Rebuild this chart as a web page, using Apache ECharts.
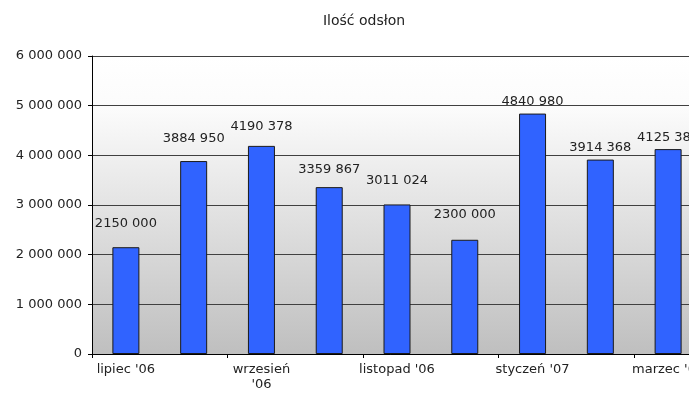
<!DOCTYPE html>
<html>
<head>
<meta charset="utf-8">
<script src="https://cdn.jsdelivr.net/npm/echarts@6/dist/echarts.min.js"></script>
<style>
  html, body { margin: 0; padding: 0; background: #ffffff; }
  #chart { width: 689px; height: 393px; }
</style>
</head>
<body>
<div id="chart"></div>
<script>
// miesiące
var months = ["lipiec '06", "sierpień '06", "wrzesień '06", "październik '06", "listopad '06",
  "grudzień '06", "styczeń '07", "luty '07", "marzec '07"];
// ilość odsłon
var views = [2150000, 3884950, 4190378, 3359867, 3011024, 2300000, 4840980, 3914368, 4125380];
var yTicks = [0, 1000000, 2000000, 3000000, 4000000, 5000000, 6000000];
// odstęp etykiety od słupka (px)
var labelGap = [17, 16, 13, 11, 17, 19, 5, 5, 5];

var font = "DejaVu Sans";

// 6 000 000 na osi
function fmtTick(v) {
  return String(v).replace(/\B(?=(\d{3})+(?!\d))/g, " ");
}
// 3884 950 nad słupkami
function fmtLabel(v) {
  var s = String(v);
  return s.slice(0, s.length - 3) + " " + s.slice(s.length - 3);
}

var barData = views.map(function (v, i) {
  return { value: v, label: { distance: labelGap[i] } };
});

var chart = echarts.init(document.getElementById("chart"));
chart.setOption({
  backgroundColor: "#ffffff",
  animation: false,
  title: {
    text: "Ilość odsłon",
    left: 359,
    textAlign: "center",
    top: 9,
    textStyle: { fontFamily: font, fontSize: 14, fontWeight: "normal", color: "#222" }
  },
  grid: {
    left: 92,
    top: 56,
    width: 610,
    height: 298,
    containLabel: false,
    outerBoundsMode: "none",
    show: true,
    borderWidth: 0,
    backgroundColor: new echarts.graphic.LinearGradient(0, 0, 0, 1, [
      { offset: 0, color: "#ffffff" },
      { offset: 0.18, color: "#fbfbfb" },
      { offset: 1, color: "#bfbfbf" }
    ])
  },
  xAxis: {
    type: "category",
    data: months,
    axisLine: { lineStyle: { color: "#000", width: 1 } },
    axisTick: { show: true, length: 4, lineStyle: { color: "#000" } },
    axisLabel: {
      interval: 1,
      margin: 8,
      fontFamily: font,
      fontSize: 13,
      color: "#222",
      lineHeight: 15,
      formatter: function (v) {
        return v === "wrzesień '06" ? "wrzesień\n'06" : v;
      }
    }
  },
  yAxis: {
    type: "value",
    min: yTicks[0],
    max: yTicks[yTicks.length - 1],
    interval: yTicks[1] - yTicks[0],
    axisLine: { show: true, lineStyle: { color: "#000", width: 1 } },
    axisTick: { show: true, length: 4, lineStyle: { color: "#000" } },
    splitLine: { show: true, lineStyle: { color: "#404040", width: 1 } },
    axisLabel: {
      margin: 10,
      fontFamily: font,
      fontSize: 13,
      color: "#222",
      formatter: fmtTick
    }
  },
  series: [{
    type: "bar",
    data: barData,
    barWidth: 27,
    itemStyle: { color: "#3063ff", borderColor: "#1a1a1a", borderWidth: 1 },
    label: {
      show: true,
      position: "top",
      fontFamily: font,
      fontSize: 13,
      color: "#222",
      formatter: function (p) { return fmtLabel(p.value); }
    }
  }]
});
</script>
</body>
</html>
